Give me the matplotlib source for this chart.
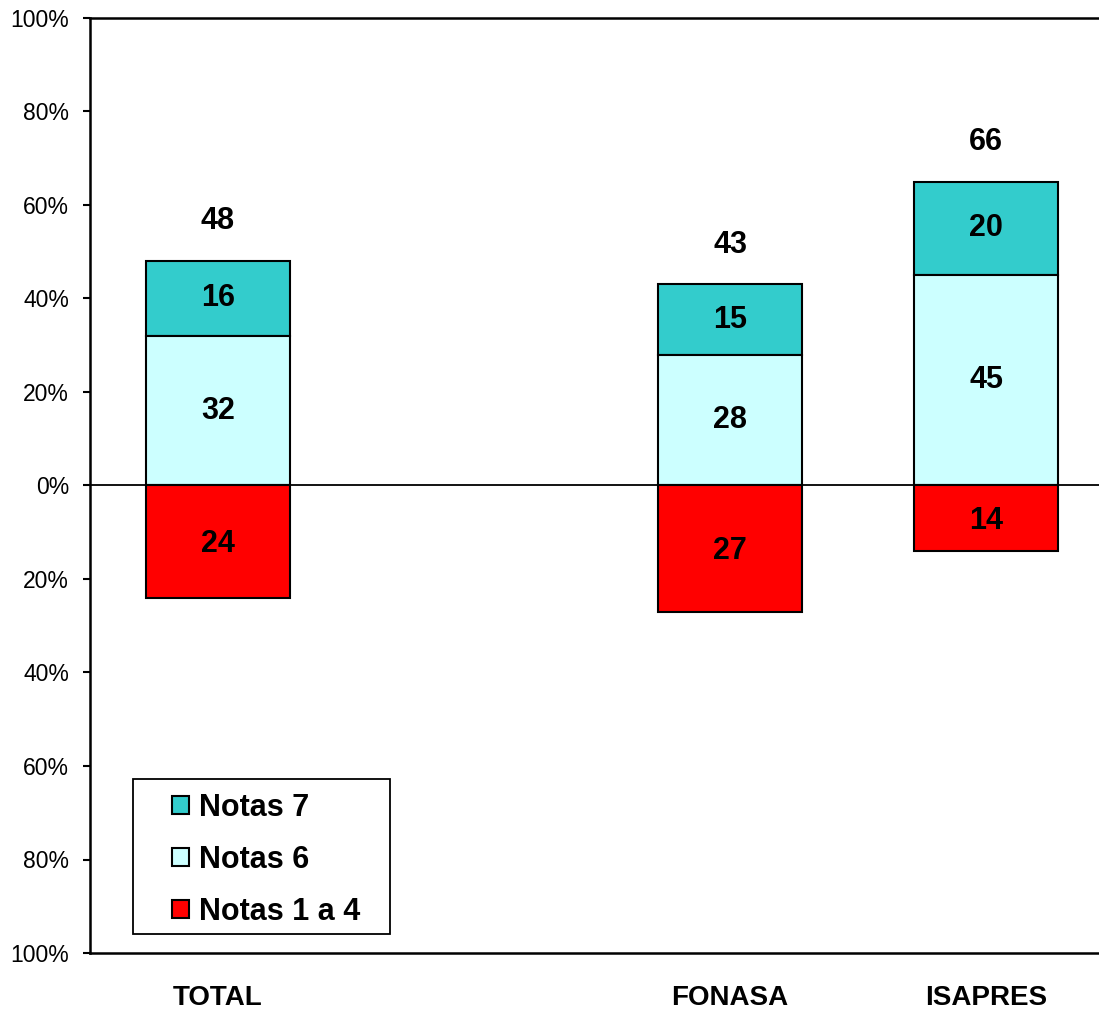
import matplotlib
matplotlib.use("Agg")
import matplotlib.pyplot as plt
from matplotlib.patches import Rectangle
import numpy as np

plt.rcParams['font.family'] = ['Liberation Sans', 'DejaVu Sans']

categories = ["TOTAL", "", "FONASA", "ISAPRES"]
notas_1a4 = [24, None, 27, 14]
notas_6 = [32, None, 28, 45]
notas_7 = [16, None, 15, 20]
totals = [48, None, 43, 66]
yticks = [-100, -80, -60, -40, -20, 0, 20, 40, 60, 80, 100]

c7 = "#33CCCC"
c6 = "#CCFFFF"
c14 = "#FF0000"

W, H = 1099, 1010
fig = plt.figure(figsize=(W/100, H/100), dpi=100)
ax = fig.add_axes([90/W, 1-953/H, 1024/W, 935/H])

x = np.arange(len(categories))
w = 0.5625
idx = [i for i, v in enumerate(notas_6) if v is not None]
xi = x[idx]
n14 = np.array([notas_1a4[i] for i in idx], float)
n6 = np.array([notas_6[i] for i in idx], float)
n7 = np.array([notas_7[i] for i in idx], float)
tt = [totals[i] for i in idx]

ek = dict(edgecolor="black", linewidth=1.5)
b7 = ax.bar(xi, n7, w, bottom=n6, color=c7, label="Notas 7", **ek)
b6 = ax.bar(xi, n6, w, color=c6, label="Notas 6", **ek)
b14 = ax.bar(xi, -n14, w, color=c14, label="Notas 1 a 4", **ek)

lab = dict(ha="center", va="center", fontsize=22, fontweight="bold")
for xx, a, b, c, t in zip(xi, n14, n6, n7, tt):
    ax.text(xx, -a/2 - 0.5, f"{a:.0f}", **lab)
    ax.text(xx, b/2, f"{b:.0f}", **lab)
    ax.text(xx, b + c/2, f"{c:.0f}", **lab)
    ax.text(xx, b + c + 8.5, f"{t}", **lab)

ax.axhline(0, color="black", linewidth=1.3, zorder=3)

ax.set_xlim(-0.5, 3.5)
ax.set_ylim(-100, 100)
ax.set_yticks(yticks)
ax.set_yticklabels([f"{abs(v)}%" for v in yticks], fontsize=16.5)
ax.set_xticks(x)
ax.set_xticklabels(categories, fontsize=20, fontweight="bold")
ax.tick_params(axis="x", length=0, pad=23)
ax.tick_params(axis="y", length=5, width=1.5, pad=10, direction="out")
for s in ["left", "top", "bottom"]:
    ax.spines[s].set_linewidth(1.8)
ax.spines["right"].set_visible(False)

leg = ax.legend(handles=[b7, b6, b14], loc="upper left",
                bbox_to_anchor=(172/W, 1-793/H),
                bbox_transform=fig.transFigure,
                prop={"size": 22, "weight": "bold"},
                frameon=False,
                handlelength=0.55, handleheight=0.55, handletextpad=0.33,
                labelspacing=0.72, borderpad=0, borderaxespad=0)

fig.patches.append(Rectangle((133/W, 1-934/H), 257/W, 155/H,
                             transform=fig.transFigure, fill=False,
                             edgecolor="black", linewidth=1.3))

fig.savefig("out.png", dpi=100)
